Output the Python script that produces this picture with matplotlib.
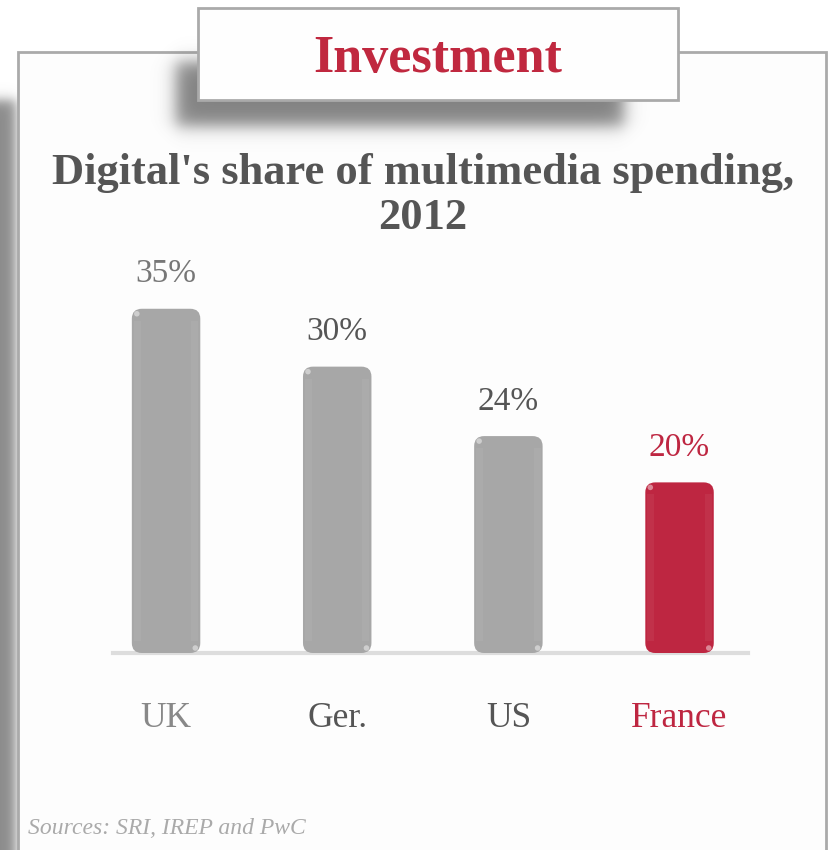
import numpy as np
import matplotlib
matplotlib.use('Agg')
import matplotlib.pyplot as plt
from matplotlib.patches import Rectangle, FancyBboxPatch

# spending data
countries = ['UK', 'Ger.', 'US', 'France']
shares = [35, 30, 24, 20]
value_labels = ['35%', '30%', '24%', '20%']
bar_colors = ['#a7a7a7', '#a7a7a7', '#a7a7a7', '#be2641']
label_colors = ['#777777', '#555555', '#555555', '#be2641']
tick_colors = ['#888888', '#555555', '#555555', '#be2641']

RED = '#c0283f'
W, H = 831, 850
plt.rcParams['font.family'] = ['Liberation Serif', 'DejaVu Serif']

fig = plt.figure(figsize=(W/100, H/100), dpi=100)
fig.patch.set_facecolor('#ffffff')

# frame, card and drop shadows in pixel coordinates
bg = fig.add_axes([0, 0, 1, 1], zorder=0)
bg.set_xlim(0, W)
bg.set_ylim(H, 0)
bg.axis('off')

def soft_rect(x0, x1, y0, y1, blur, strength):
    xx = np.arange(W) + 0.5
    yy = np.arange(H) + 0.5
    sx = 0.5*(np.tanh((xx-x0)/blur) - np.tanh((xx-x1)/blur))
    sy = 0.5*(np.tanh((yy-y0)/blur) - np.tanh((yy-y1)/blur))
    a = np.outer(sy, sx)*strength
    img = np.zeros((H, W, 4))
    img[..., :3] = 0.35
    img[..., 3] = a
    return img

bg.imshow(soft_rect(-40, 16, 100, 1000, 7, 0.7), extent=(0, W, H, 0),
          interpolation='bilinear', zorder=1)
bg.add_patch(Rectangle((18, 52), 808, 900, fc='#fdfdfd', ec='#aaaaaa', lw=2, zorder=2))
bg.imshow(soft_rect(176, 624, 62, 126, 10, 0.75), extent=(0, W, H, 0),
          interpolation='bilinear', zorder=3)
bg.add_patch(Rectangle((198, 8), 480, 92, fc='#fefefe', ec='#aaaaaa', lw=2, zorder=4))

fig.text(438/W, 1-59/H, 'Investment', ha='center', va='center', color=RED,
         fontsize=37.5, fontweight='bold', zorder=5)
fig.text(423/W, 1-173/H, "Digital's share of multimedia spending,", ha='center',
         va='center', color='#555555', fontsize=32, fontweight='bold')
fig.text(423/W, 1-218/H, '2012', ha='center', va='center', color='#555555',
         fontsize=32, fontweight='bold')
fig.text(28/W, 1-828/H, 'Sources: SRI, IREP and PwC', ha='left', va='center',
         color='#aaaaaa', fontsize=17, style='italic')

# bar chart
ax = fig.add_axes([113/W, 1-653/H, 635/W, 400/H], zorder=2)
ax.set_facecolor('none')
base = 5.26
x = np.arange(len(countries))
ax.set_xlim(-0.31, 3.40)
ax.set_ylim(base, base + 400/11.575)
for s in ['top', 'left', 'right']:
    ax.spines[s].set_visible(False)
ax.spines['bottom'].set_color('#dddddd')
ax.spines['bottom'].set_linewidth(3)
ax.set_yticks([])
ax.set_xticks(x)
ax.set_xticklabels(countries, fontsize=25.5)
for t, c in zip(ax.get_xticklabels(), tick_colors):
    t.set_color(c)
ax.tick_params(axis='x', length=0, pad=35)

bars = ax.bar(x, np.array(shares) - base, bottom=base, width=0.40, color=bar_colors)

# swap the plain rectangles for rounded, glossy ones
fig.canvas.draw()
p0 = ax.transData.transform((0, 0))
p1 = ax.transData.transform((1, 1))
px_x = p1[0] - p0[0]
px_y = p1[1] - p0[1]
aspect = px_x / px_y
r = 10 / px_x
for b, col in zip(bars, bar_colors):
    b.set_visible(False)
    bx, by = b.get_x(), b.get_y()
    bw, bh = b.get_width(), b.get_height()
    ax.add_patch(FancyBboxPatch((bx, by), bw, bh,
                                boxstyle=f'round,pad=0,rounding_size={r}',
                                mutation_aspect=aspect, fc=col, ec='none',
                                zorder=3, clip_on=False))
    # soft lighter strips along both sides
    sw = 7 / px_x
    for sx in (bx + 2/px_x, bx + bw - 2/px_x - sw):
        ax.add_patch(Rectangle((sx, by + 12/px_y), sw, bh - 24/px_y, fc='white',
                               alpha=0.05, ec='none', zorder=4))
    # specular glints at top-left and bottom-right corners
    ax.scatter([bx + 5/px_x], [by + bh - 5/px_y], s=16, c='white', alpha=0.45,
               edgecolors='none', zorder=5)
    ax.scatter([bx + bw - 5/px_x], [by + 5/px_y], s=16, c='white', alpha=0.45,
               edgecolors='none', zorder=5, clip_on=False)

for xi, v, lab, c in zip(x, shares, value_labels, label_colors):
    ax.annotate(lab, (xi, v), xytext=(0, 25), textcoords='offset points',
                ha='center', va='center', fontsize=24, color=c)

fig.savefig('out.png', dpi=100)
